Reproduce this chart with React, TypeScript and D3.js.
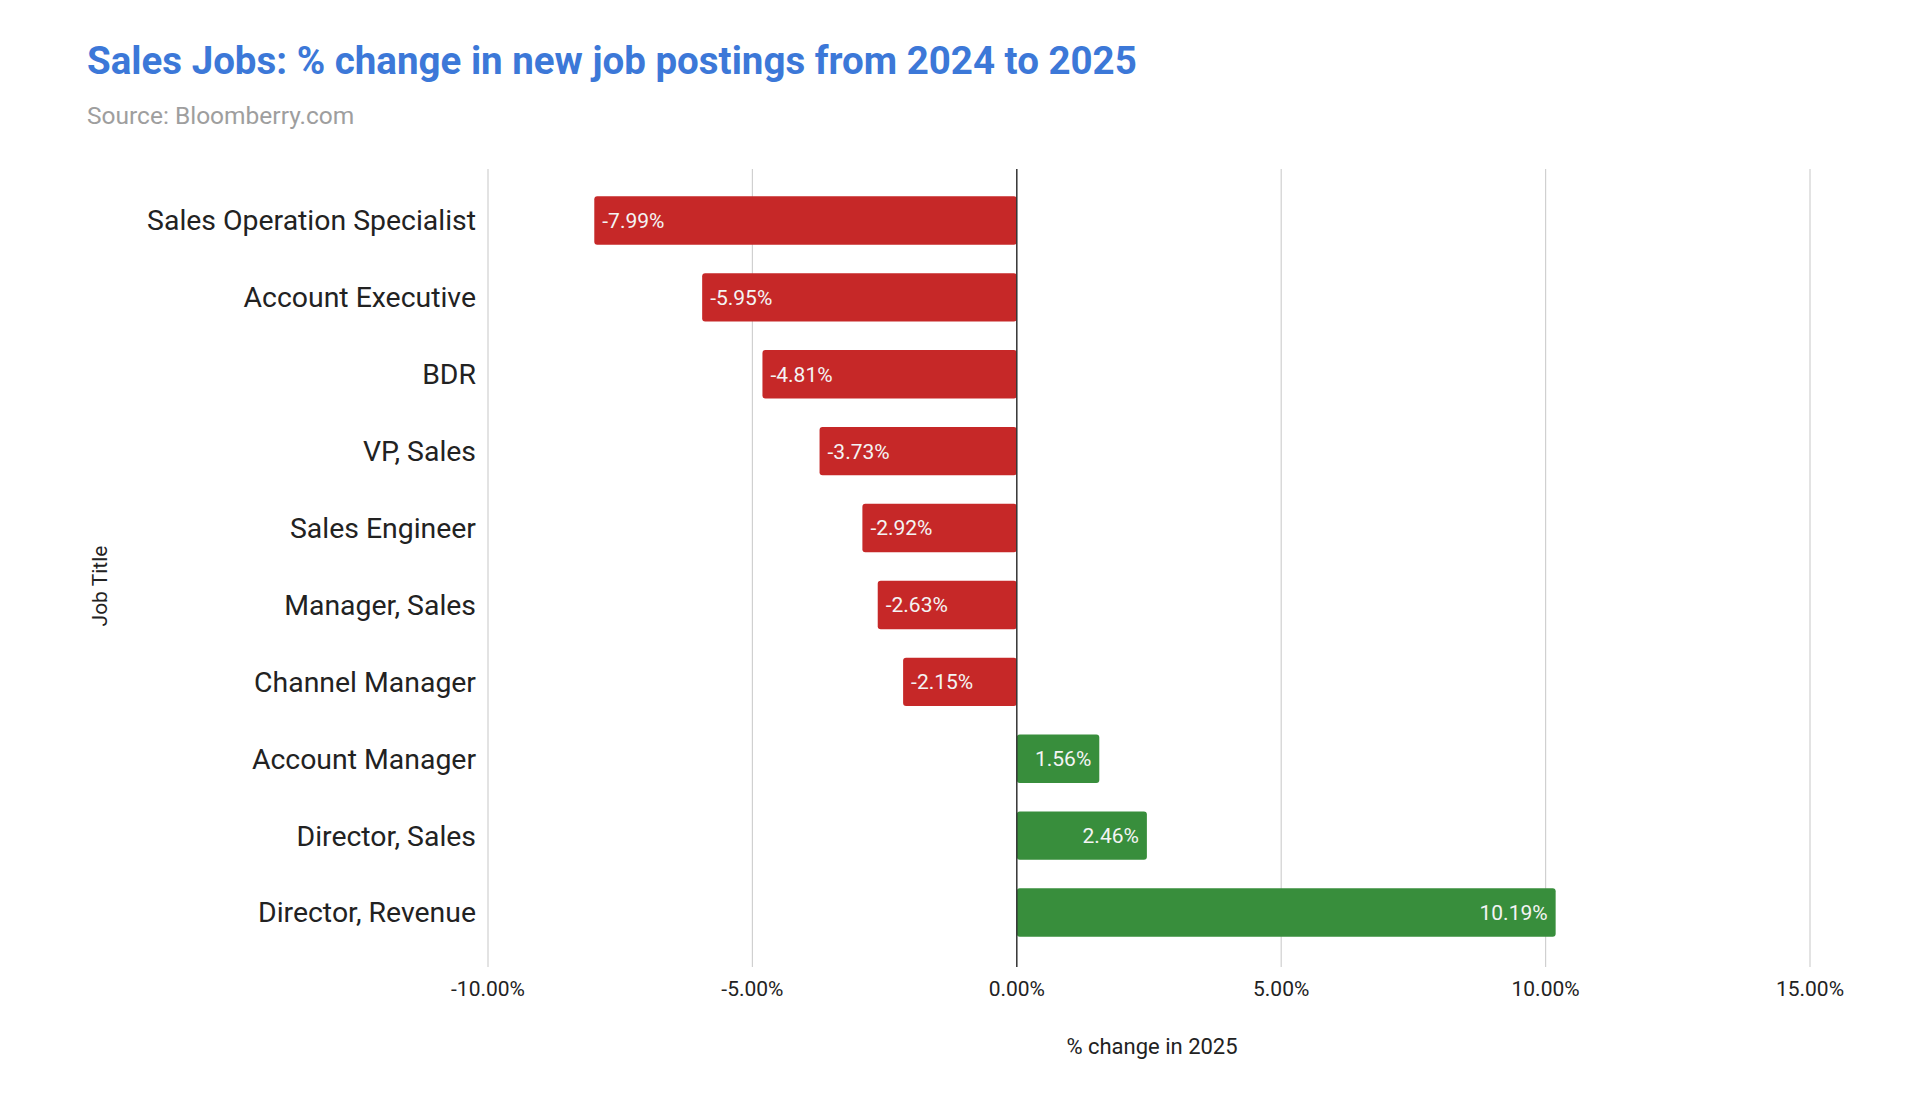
import React, { useEffect, useRef } from "react";
import * as d3 from "d3";

const jobTitles = [
  "Sales Operation Specialist",
  "Account Executive",
  "BDR",
  "VP, Sales",
  "Sales Engineer",
  "Manager, Sales",
  "Channel Manager",
  "Account Manager",
  "Director, Sales",
  "Director, Revenue",
];
const pctChange = [-7.99, -5.95, -4.81, -3.73, -2.92, -2.63, -2.15, 1.56, 2.46, 10.19];
const xTicks = [-10, -5, 0, 5, 10, 15];

const W = 1920;
const H = 1104;

export default function App() {
  const ref = useRef<SVGSVGElement>(null);

  useEffect(() => {
    const svg = d3.select(ref.current);
    svg.selectAll("*").remove();

    const left = 488, right = 1810, top = 169, bottom = 967;

    const x = d3.scaleLinear().domain([-10, 15]).range([left, right]);
    const y = d3.scaleBand<string>()
      .domain(jobTitles)
      .range([182, 951])
      .paddingInner(0.37)
      .paddingOuter(0.185);

    svg.append("rect").attr("width", W).attr("height", H).attr("fill", "#fff");

    // title + source
    svg.append("text")
      .attr("x", 87).attr("y", 74)
      .attr("font-size", 38.5).attr("font-weight", 700)
      .attr("fill", "#3c78d8")
      .text("Sales Jobs: % change in new job postings from 2024 to 2025");
    svg.append("text")
      .attr("x", 87).attr("y", 124)
      .attr("font-size", 24.5)
      .attr("fill", "#9e9e9e")
      .text("Source: Bloomberry.com");

    // grid
    svg.append("g")
      .selectAll("line")
      .data(xTicks.filter(t => t !== 0))
      .join("line")
      .attr("x1", d => x(d)).attr("x2", d => x(d))
      .attr("y1", top).attr("y2", bottom)
      .attr("stroke", "#d0d0d0").attr("stroke-width", 1.2);

    const data = jobTitles.map((t, i) => ({ title: t, v: pctChange[i] }));

    svg.append("g")
      .selectAll("rect")
      .data(data)
      .join("rect")
      .attr("x", d => x(Math.min(0, d.v)))
      .attr("y", d => y(d.title)!)
      .attr("width", d => Math.abs(x(d.v) - x(0)))
      .attr("height", y.bandwidth())
      .attr("rx", 3)
      .attr("fill", d => d.v < 0 ? "#c62828" : "#388e3c");

    // bar labels
    svg.append("g")
      .selectAll("text")
      .data(data)
      .join("text")
      .attr("x", d => d.v < 0 ? x(d.v) + 8 : x(d.v) - 8)
      .attr("y", d => y(d.title)! + y.bandwidth() / 2)
      .attr("dy", "0.35em")
      .attr("text-anchor", d => d.v < 0 ? "start" : "end")
      .attr("font-size", 21)
      .attr("fill", "#f4f4f4")
      .text(d => d.v.toFixed(2) + "%");

    // zero line
    svg.append("line")
      .attr("x1", x(0)).attr("x2", x(0))
      .attr("y1", top).attr("y2", bottom)
      .attr("stroke", "#333").attr("stroke-width", 1.5);

    // y labels
    svg.append("g")
      .selectAll("text")
      .data(jobTitles)
      .join("text")
      .attr("x", 476)
      .attr("y", d => y(d)! + y.bandwidth() / 2)
      .attr("dy", "0.35em")
      .attr("text-anchor", "end")
      .attr("font-size", 28.4)
      .attr("fill", "#222")
      .text(d => d);

    // x tick labels
    svg.append("g")
      .selectAll("text")
      .data(xTicks)
      .join("text")
      .attr("x", d => x(d))
      .attr("y", 989)
      .attr("dy", "0.35em")
      .attr("text-anchor", "middle")
      .attr("font-size", 21)
      .attr("fill", "#222")
      .text(d => d.toFixed(2) + "%");

    svg.append("text")
      .attr("x", 1152).attr("y", 1046)
      .attr("dy", "0.35em")
      .attr("text-anchor", "middle")
      .attr("font-size", 22)
      .attr("fill", "#222")
      .text("% change in 2025");

    svg.append("text")
      .attr("transform", "translate(100,586) rotate(-90)")
      .attr("dy", "0.35em")
      .attr("text-anchor", "middle")
      .attr("font-size", 21)
      .attr("fill", "#222")
      .text("Job Title");
  }, []);

  return (
    <svg
      ref={ref}
      width={W}
      height={H}
      style={{ position: "absolute", left: 0, top: 0, fontFamily: "Roboto, sans-serif" }}
    />
  );
}
